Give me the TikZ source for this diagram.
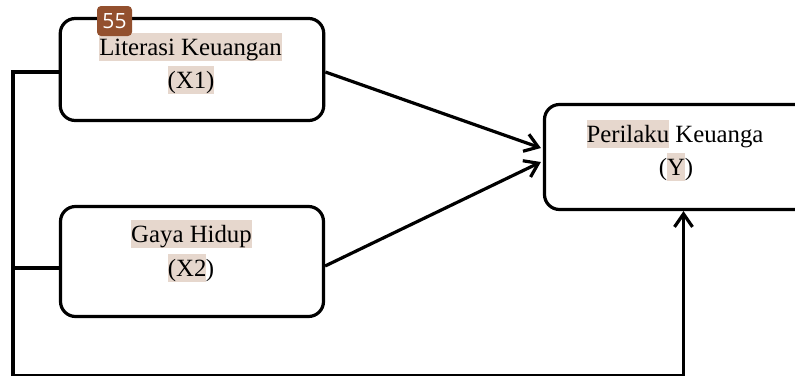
\documentclass[tikz,border=0pt]{standalone}
\usepackage{fontspec}
\setmainfont{Liberation Serif}
\newfontfamily\badgefont{Open Sans}
\usetikzlibrary{arrows.meta}
\definecolor{hlbg}{HTML}{E6D7CD}
\definecolor{badgebg}{HTML}{93502E}
% highlighted span with a fixed line-height strut
\newcommand{\hlspan}[1]{{\setlength{\fboxsep}{0pt}\colorbox{hlbg}{\rule[-0.25em]{0pt}{1.13em}#1}}}
\tikzset{
  varbox/.style={draw, line width=3.2pt, rounded corners=15pt, inner sep=0pt},
  txt/.style={anchor=base, inner sep=0pt, font=\fontsize{24.8}{33}\selectfont},
  link/.style={line width=3.2pt},
  arr/.style={line width=3.2pt, -{Straight Barb[length=13pt,width=18pt]}},
  badge/.style={fill=badgebg, rounded corners=4pt, minimum width=35pt, minimum height=30pt, inner sep=0pt,
    text=white, font=\badgefont\fontsize{21}{21}\selectfont}
}
\begin{document}
\begin{tikzpicture}[x=1pt,y=1pt]
\useasboundingbox (0,0) rectangle (795,-375);
\clip (0,0) rectangle (795,-375);

% variable boxes
\node[varbox, minimum width=263.5pt, minimum height=102pt] (x1) at (192,-69.5) {};
\node[varbox, minimum width=263pt, minimum height=110pt] (x2) at (192,-261.5) {};
\node[varbox, minimum width=266pt, minimum height=105pt] (y) at (677.5,-157) {};

% box labels
\node[txt] (x1a) at (190.5,-55) {\hlspan{Literasi Keuangan}};
\node[txt] (x1b) at (191,-88) {\hlspan{(X1)}};
\node[txt] (x2a) at (191.5,-242) {\hlspan{Gaya Hidup}};
\node[txt] (x2b) at (191,-276) {\hlspan{(X2}\kern-0.02em)};
\node[txt] (ya) at (675,-142) {\hlspan{Perilaku} Keuanga};
\node[txt] (yb) at (676,-175) {(\hlspan{Y})};

% corner and junction points of the outer frame line
\coordinate (tl) at (13,-72);
\coordinate (ml) at (13,-268);
\coordinate (bl) at (13,-375.8);
\coordinate (br) at (683.5,-375.8);

% connectors
\draw[link] ([yshift=-2.5pt]x1.west) -- (tl) -- (bl) -- (br);
\draw[link] (x2.west |- ml) -- (ml);
\draw[arr] (br) -- (br |- y.south);
\draw[arr] ([yshift=-2.5pt]x1.east) -- ([xshift=-2pt,yshift=9pt]y.west);
\draw[arr] ([yshift=-4.5pt]x2.east) -- ([xshift=-2pt,yshift=-5pt]y.west);

% page badge
\node[badge] (pg) at (114.5,-21) {55};
\end{tikzpicture}
\end{document}
